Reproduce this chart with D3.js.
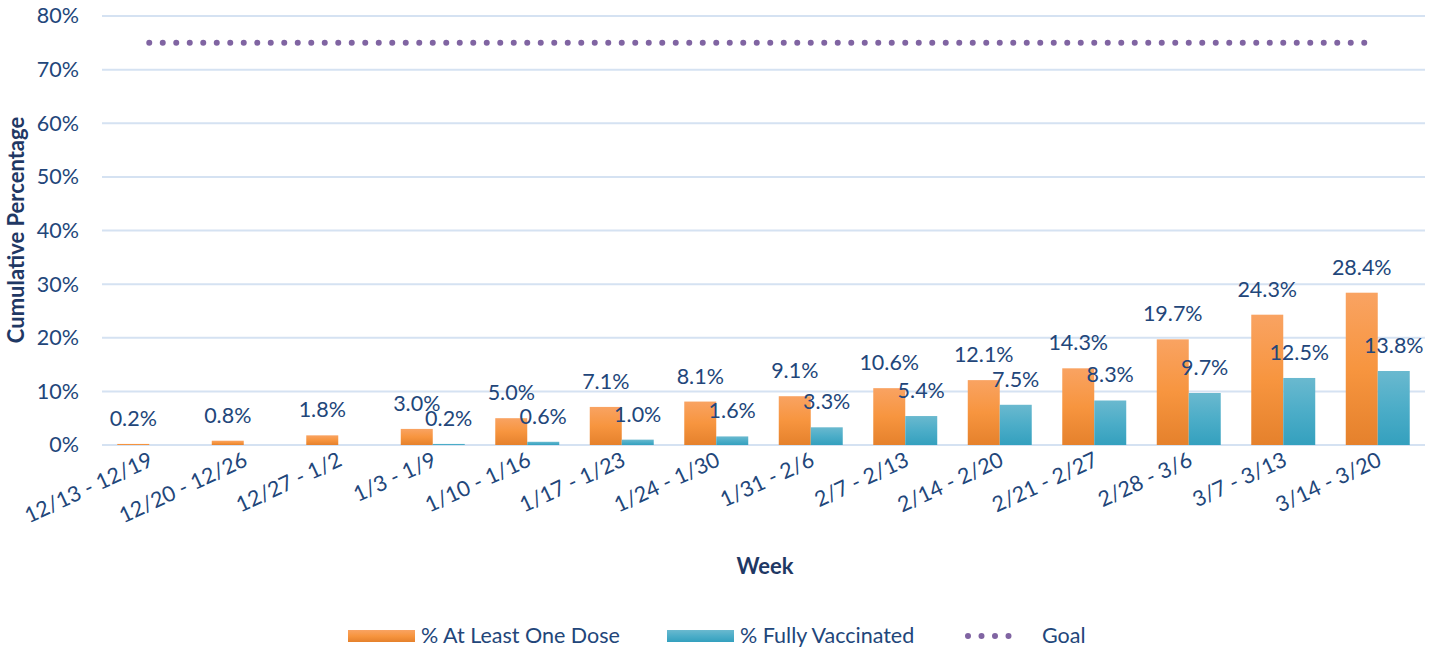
<!DOCTYPE html>
<html><head><meta charset="utf-8">
<script src="https://cdn.jsdelivr.net/npm/d3@7"></script>
<style>body{margin:0;background:#fff;} text{font-family:Lato,"Open Sans",sans-serif;}</style>
</head><body>
<svg id="c" width="1442" height="650"></svg>
<script>
const weeks = ["12/13 - 12/19","12/20 - 12/26","12/27 - 1/2","1/3 - 1/9","1/10 - 1/16","1/17 - 1/23","1/24 - 1/30","1/31 - 2/6","2/7 - 2/13","2/14 - 2/20","2/21 - 2/27","2/28 - 3/6","3/7 - 3/13","3/14 - 3/20"];
const oneDose = [0.2,0.8,1.8,3.0,5.0,7.1,8.1,9.1,10.6,12.1,14.3,19.7,24.3,28.4];
const fully = [null,null,0.0,0.2,0.6,1.0,1.6,3.3,5.4,7.5,8.3,9.7,12.5,13.8];
const goal = 75;
const yTicks = [0,10,20,30,40,50,60,70,80];
const seriesNames = ["% At Least One Dose","% Fully Vaccinated","Goal"];

(function(){
const svg = d3.select("#c");
const pL = 102, pR = 1425, pT = 16, pB = 445;
const x = d3.scaleBand().domain(weeks).range([pL,pR]).paddingInner(0.323).paddingOuter(0.1615);
const xs = d3.scaleBand().domain([0,1]).range([0,x.bandwidth()]);
const y = d3.scaleLinear().domain([0,80]).range([pB,pT]);
const textCol = "#22467a";
const fs = 21.5;

const defs = svg.append("defs");
function grad(id, c1, c2, c3){
  const g = defs.append("linearGradient").attr("id",id).attr("x1",0).attr("x2",0).attr("y1",0).attr("y2",1);
  g.append("stop").attr("offset","0%").attr("stop-color",c1);
  g.append("stop").attr("offset","50%").attr("stop-color",c2);
  g.append("stop").attr("offset","100%").attr("stop-color",c3);
}
grad("gO","#f9a362","#f7953f","#e5812c");
grad("gT","#6ab9cf","#4cadc8","#34a0be");

svg.append("g").selectAll("line").data(yTicks).join("line")
  .attr("x1",pL).attr("x2",pR).attr("y1",d=>y(d)).attr("y2",d=>y(d))
  .attr("stroke","#d5e2f2").attr("stroke-width",2);

const yAxis = d3.axisLeft(y).tickValues(yTicks).tickFormat(d=>d+"%").tickSize(0).tickPadding(23);
const ya = svg.append("g").attr("transform",`translate(${pL},0)`).call(yAxis);
ya.select(".domain").remove();
ya.selectAll("text").attr("font-size",fs).attr("fill",textCol).attr("font-family","Lato");

const g = svg.append("g");
weeks.forEach((w,i)=>{
  const vals = [oneDose[i], fully[i]];
  vals.forEach((v,j)=>{
    if(v===null) return;
    const bx = x(w)+xs(j), bw = xs.bandwidth();
    g.append("rect").attr("x",bx).attr("width",bw)
      .attr("y",y(v)).attr("height",Math.max(0,y(0)-y(v)))
      .attr("fill",j===0?"url(#gO)":"url(#gT)");
    if(v>0){
      g.append("text").attr("x",bx+bw/2).attr("y",y(v)-18)
        .attr("text-anchor","middle").attr("font-size",fs).attr("fill",textCol)
        .text(v.toFixed(1)+"%");
    }
  });
});

const gx0 = x(weeks[0])+x.bandwidth()/2, gx1 = x(weeks[weeks.length-1])+x.bandwidth()/2;
svg.append("line").attr("x1",gx0).attr("x2",gx1).attr("y1",y(goal)).attr("y2",y(goal))
  .attr("stroke","#8064a2").attr("stroke-width",6).attr("stroke-linecap","round")
  .attr("stroke-dasharray","0 13.5");

const xAxis = d3.axisBottom(x).tickSize(0).tickPadding(0);
const xa = svg.append("g").attr("transform",`translate(0,${pB})`).call(xAxis);
xa.select(".domain").remove();
xa.selectAll("text").attr("font-size",fs).attr("fill",textCol).attr("font-family","Lato")
  .attr("text-anchor","end").attr("dy",0).attr("y",0)
  .attr("transform","translate(5,20) rotate(-25)");

svg.append("text").attr("transform","translate(24,230) rotate(-90)")
  .attr("text-anchor","middle").attr("font-size",22).attr("font-weight","bold").attr("fill","#1f3864")
  .text("Cumulative Percentage");
svg.append("text").attr("x",765).attr("y",574).attr("text-anchor","middle")
  .attr("font-size",22).attr("font-weight","bold").attr("fill","#1f3864").text("Week");

const lg = svg.append("g");
const legendX = [348,667,965];
seriesNames.forEach((n,i)=>{
  const lx = legendX[i];
  if(i<2){
    lg.append("rect").attr("x",lx).attr("y",630).attr("width",67).attr("height",12)
      .attr("fill",i===0?"url(#gO)":"url(#gT)");
    lg.append("text").attr("x",lx+73).attr("y",643).attr("font-size",fs).attr("fill",textCol).text(n);
  } else {
    lg.append("line").attr("x1",lx+3).attr("x2",lx+57).attr("y1",636).attr("y2",636)
      .attr("stroke","#8064a2").attr("stroke-width",6).attr("stroke-linecap","round")
      .attr("stroke-dasharray","0 13.5");
    lg.append("text").attr("x",lx+77).attr("y",643).attr("font-size",fs).attr("fill",textCol).text(n);
  }
});
})();
</script>
</body></html>
